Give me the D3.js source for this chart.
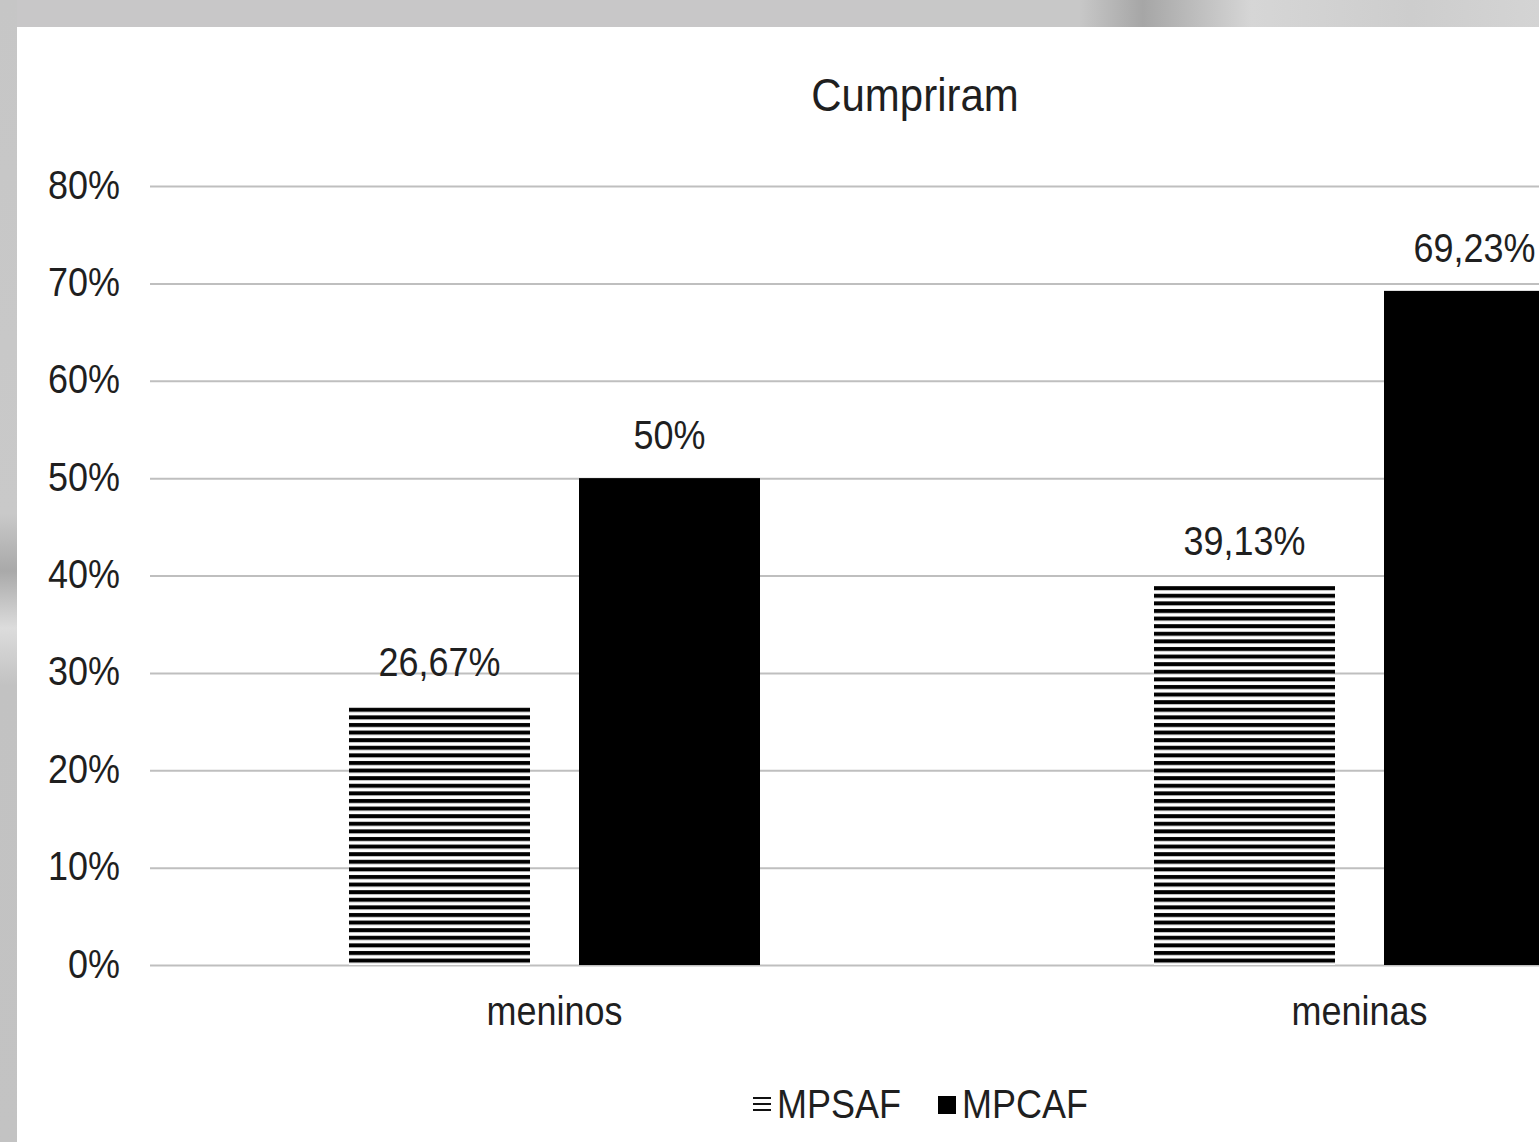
<!DOCTYPE html>
<html><head><meta charset="utf-8">
<script src="https://cdn.jsdelivr.net/npm/d3@7"></script>
<style>html,body{margin:0;padding:0;background:#c8c7c8;overflow:hidden}</style>
</head><body>
<script>
const categories = ["meninos", "meninas"];
const seriesNames = ["MPSAF", "MPCAF"];
const MPSAF = [26.67, 39.13];
const MPCAF = [50, 69.23];
const valueLabels = [["26,67%", "39,13%"], ["50%", "69,23%"]];
const yTicks = [0, 10, 20, 30, 40, 50, 60, 70, 80];
const title = "Cumpriram";

const W = 1539, H = 1142;
const svg = d3.select("body").append("svg").attr("width", W).attr("height", H);
const defs = svg.append("defs");
const pat = defs.append("pattern").attr("id", "hstripe").attr("patternUnits", "userSpaceOnUse")
  .attr("width", 10).attr("height", 7.6);
pat.append("rect").attr("width", 10).attr("height", 7.6).attr("fill", "#fff");
pat.append("rect").attr("y", 1).attr("width", 10).attr("height", 4).attr("fill", "#000");

// slide background
const bg = defs.append("linearGradient").attr("id", "lg").attr("x1", 0).attr("x2", 0).attr("y1", 0).attr("y2", 1);
[[0,"#c6c6c6"],[0.45,"#c9c9c9"],[0.5,"#a9a9a9"],[0.55,"#dcdcdc"],[0.6,"#c2c2c2"],[1,"#c3c3c3"]].forEach(s=>bg.append("stop").attr("offset",s[0]).attr("stop-color",s[1]));
svg.append("rect").attr("width", W).attr("height", H).attr("fill", "#c8c7c8");
svg.append("rect").attr("width", 17).attr("height", H).attr("fill", "url(#lg)");
const tg = defs.append("linearGradient").attr("id", "tg");
[[0,"#c8c8c8"],[0.28,"#c8c8c8"],[0.38,"#a6a6a6"],[0.55,"#d6d6d6"],[0.8,"#cdcdcd"],[1,"#d4d4d4"]].forEach(s=>tg.append("stop").attr("offset",s[0]).attr("stop-color",s[1]));
svg.append("rect").attr("x", 900).attr("width", 639).attr("height", 27).attr("fill", "url(#tg)");
svg.append("rect").attr("x", 17).attr("y", 27).attr("width", W).attr("height", H).attr("fill", "#fff");

const font = "'Liberation Sans', Arial, sans-serif";
const SY = 1.12;
function txt(g, x, y, s, size, anchor) {
  return g.append("text").attr("transform", `translate(${x},${y}) scale(1,${SY})`)
    .attr("text-anchor", anchor || "middle").attr("font-family", font)
    .attr("font-size", size).attr("fill", "#1f1f1f").text(s);
}

const x0 = d3.scaleBand().domain(categories).range([152, 1762]).paddingInner(0).paddingOuter(0);
const y = d3.scaleLinear().domain([0, 80]).range([965, 186]);
const barW = 181, gap = 49;

// gridlines
const yAxis = d3.axisLeft(y).tickValues(yTicks).tickSize(-(1762 - 150)).tickFormat(d => d + "%");
const ga = svg.append("g").attr("transform", "translate(150,0)").call(yAxis);
ga.select(".domain").remove();
ga.selectAll(".tick line").attr("stroke", "#bfbfbf").attr("stroke-width", 2);
ga.selectAll(".tick text").remove();
ga.selectAll(".tick").each(function(d) {
  txt(d3.select(this), -30, 12, d + "%", 36, "end");
});

// bars
categories.forEach((c, i) => {
  const cx = x0(c) + x0.bandwidth() / 2;
  const xs = [cx - gap / 2 - barW, cx + gap / 2];
  [MPSAF[i], MPCAF[i]].forEach((v, j) => {
    svg.append("rect").attr("x", xs[j]).attr("y", y(v)).attr("width", barW)
      .attr("height", y(0) - y(v)).attr("fill", j === 0 ? "url(#hstripe)" : "#000");
    txt(svg, xs[j] + barW / 2, y(v) - 29, valueLabels[j][i], 36);
  });
  txt(svg, cx, 1025, c, 36);
});

// title
txt(svg, 915, 111, title, 42);

// legend
const lg = svg.append("g");
[0, 1, 2].forEach(k => lg.append("rect").attr("x", 753).attr("y", 1097 + k * 6).attr("width", 18).attr("height", 2).attr("fill", "#111"));
txt(lg, 777, 1118, seriesNames[0], 36, "start");
lg.append("rect").attr("x", 938).attr("y", 1096).attr("width", 18).attr("height", 18).attr("fill", "#000");
txt(lg, 962, 1118, seriesNames[1], 36, "start");
</script>
</body></html>
